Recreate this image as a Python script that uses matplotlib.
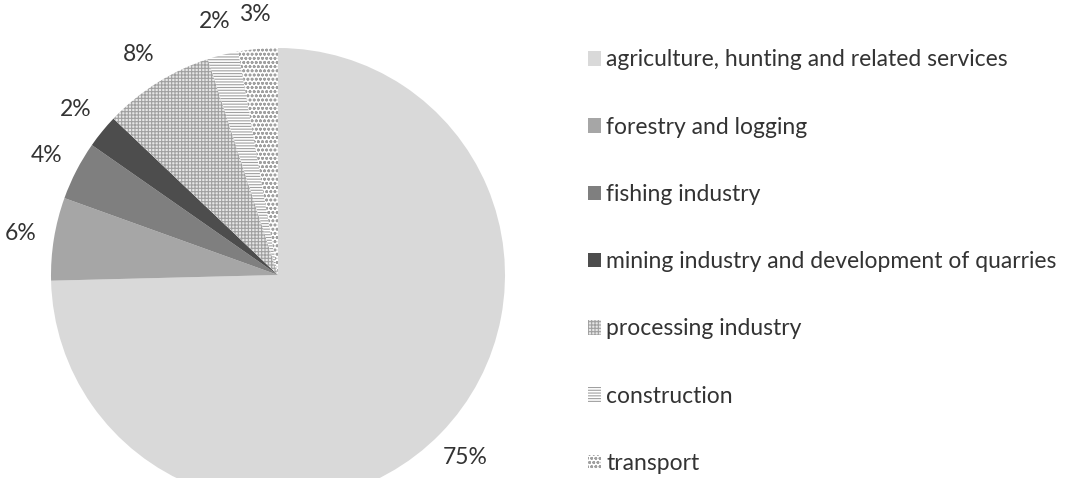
import matplotlib
matplotlib.use("Agg")
import matplotlib.pyplot as plt

# shares of each sector (%)
sectors = ["agriculture, hunting and related services", "forestry and logging",
           "fishing industry", "mining industry and development of quarries",
           "processing industry", "construction", "transport"]
shares = [74.6, 5.9, 4.2, 2.4, 7.9, 2.2, 2.8]

colors = ["#d9d9d9", "#a6a6a6", "#7f7f7f", "#4d4d4d", "#e6e6e6", "#ffffff", "#ffffff"]
hatches = [None, None, None, None, "+++++", "------", "oooo"]

plt.rcParams['font.family'] = ['Lato', 'DejaVu Sans']
plt.rcParams['hatch.linewidth'] = 0.8

fig = plt.figure(figsize=(10.74, 4.78), dpi=100)
# pie centre at (278, 275) px, radius 227 px; bottom part falls off the figure
W, H = 1074, 478
cx, cy, r = 278, 275, 227
ax = fig.add_axes([(cx - r) / W, (H - cy - r) / H, 2 * r / W, 2 * r / H])

wedges, texts, autotexts = ax.pie(shares, colors=colors, startangle=90, counterclock=False,
                                  autopct='%.0f%%', pctdistance=1.15,
                                  wedgeprops=dict(linewidth=0),
                                  textprops=dict(fontsize=16.5, color="#333333"))
for w, h in zip(wedges, hatches):
    if h:
        w.set_hatch(h)
        w.set_edgecolor("#a0a0a0")
        w.set_linewidth(0)
ax.set_xlim(-1, 1)
ax.set_ylim(-1, 1)
ax.set_aspect("auto")
ax.axis("off")

fig.legend(wedges, sectors, loc="upper left", bbox_to_anchor=(0.528, 0.94),
           frameon=False, fontsize=16.5, handlelength=0.6, handleheight=0.6,
           handletextpad=0.2, labelspacing=2.02, labelcolor="#333333")

fig.savefig("out.png", dpi=100)
